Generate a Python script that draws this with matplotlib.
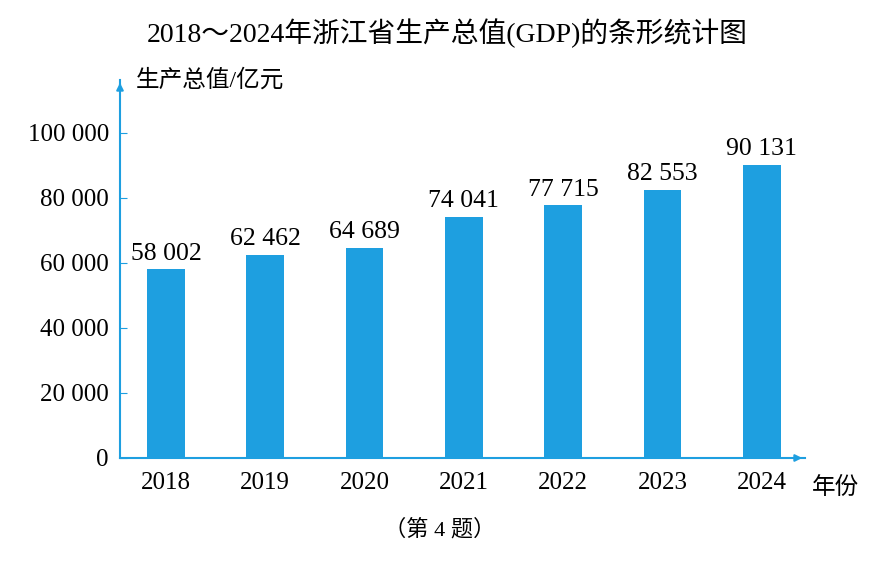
import matplotlib.pyplot as plt

years = ["2018", "2019", "2020", "2021", "2022", "2023", "2024"]
gdp = [58002, 62462, 64689, 74041, 77715, 82553, 90131]
yticks = [0, 20000, 40000, 60000, 80000, 100000]

BLUE = "#1e9fe0"
FONT = ["Liberation Serif", "Noto Sans CJK SC"]
plt.rcParams["font.family"] = FONT


def fmt(v):
    return f"{v:,}".replace(",", " ")


fig = plt.figure(figsize=(8.94, 5.64), dpi=100)
ax = fig.add_axes([120 / 894, 106 / 564, 685 / 894, 378 / 564])
x = list(range(len(years)))
ax.bar(x, gdp, width=0.38, color=BLUE)
for xi, v in zip(x, gdp):
    ax.text(xi, v + 1500, fmt(v), ha="center", va="bottom", fontsize=18.5)

ax.set_xlim(-0.463, 6.435)
ax.set_ylim(0, 116300)
for s in ["top", "right"]:
    ax.spines[s].set_visible(False)
for s in ["left", "bottom"]:
    ax.spines[s].set_color(BLUE)
    ax.spines[s].set_linewidth(1.5)
ax.annotate("", xy=(1.0, 0), xytext=(0.98, 0), xycoords="axes fraction",
            arrowprops=dict(arrowstyle="-|>", color=BLUE, lw=1.5))
ax.annotate("", xy=(0, 1.0), xytext=(0, 0.98), xycoords="axes fraction",
            arrowprops=dict(arrowstyle="-|>", color=BLUE, lw=1.5))

ax.set_xticks(x)
ax.set_xticklabels(years, fontsize=18)
ax.tick_params(axis="x", length=0, pad=10)
ax.set_yticks(yticks)
ax.set_yticklabels([fmt(v) for v in yticks], fontsize=18)
ax.tick_params(axis="y", direction="in", length=5, color=BLUE, pad=8)

fig.text(136 / 894, 1 - 80 / 564, "生产总值/亿元", fontsize=17, va="center")
fig.text(812 / 894, 1 - 488 / 564, "年份", fontsize=17, va="center")
fig.text(0.5, 1 - 33 / 564, "2018～2024年浙江省生产总值(GDP)的条形统计图",
         fontsize=20, ha="center", va="center")
fig.text(440 / 894, 1 - 530 / 564, "（第 4 题）", fontsize=16, ha="center", va="center")

fig.savefig("out.png", dpi=100)
